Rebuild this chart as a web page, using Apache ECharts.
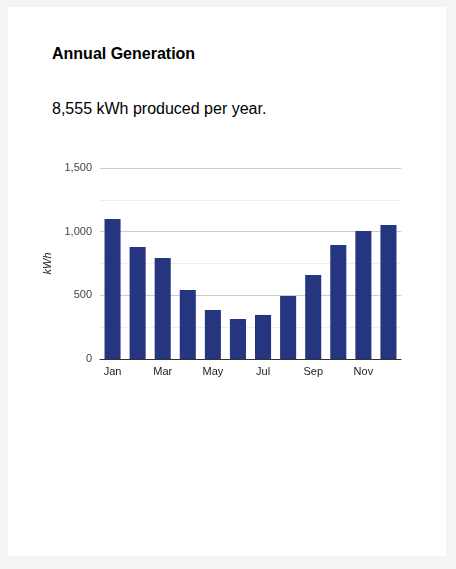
<!DOCTYPE html>
<html><head><meta charset="utf-8">
<script src="https://cdn.jsdelivr.net/npm/echarts@6/dist/echarts.min.js"></script>
<style>
html,body{margin:0;padding:0;background:#f5f4f2;width:456px;height:569px;overflow:hidden;font-family:"Liberation Sans",Arial,sans-serif;}
#card{position:absolute;left:8px;top:7px;width:438px;height:549px;background:#fff;}
#t{position:absolute;left:44px;top:38px;font-size:16px;font-weight:bold;color:#000;}
#s{position:absolute;left:44px;top:93px;font-size:16px;color:#000;}
#c{position:absolute;left:0;top:0;width:456px;height:569px;}
</style></head>
<body>
<div id="card"><div id="t">Annual Generation</div><div id="s">8,555 kWh produced per year.</div></div>
<div id="c"></div>
<script>
const months=["Jan","Feb","Mar","Apr","May","Jun","Jul","Aug","Sep","Oct","Nov","Dec"];
const generation=[1100,880,793,542,385,314,346,495,660,895,1005,1053];
const chart=echarts.init(document.getElementById('c'));
chart.setOption({
  animation:false,
  grid:{left:100,right:55,top:168,bottom:210,containLabel:false},
  xAxis:{type:'category',data:months,
    axisLine:{lineStyle:{color:'#333'}},axisTick:{show:false},
    axisLabel:{interval:1,color:'#222',fontSize:11,margin:7,fontFamily:'Liberation Sans'}},
  yAxis:{type:'value',min:0,max:1500,interval:500,name:'kWh',nameLocation:'middle',nameGap:32,
    nameTextStyle:{fontStyle:'italic',fontSize:11,color:'#222'},
    axisLabel:{color:'#444',fontSize:11,fontFamily:'Liberation Sans',formatter:v=>v.toLocaleString('en-US')},
    splitLine:{lineStyle:{color:'#ccc'}},
    minorTick:{show:false,splitNumber:2},
    minorSplitLine:{show:true,lineStyle:{color:'#eee'}}},
  series:[{type:'bar',data:generation,barWidth:'64%',itemStyle:{color:'#253580'}}]
});
</script>
</body></html>
